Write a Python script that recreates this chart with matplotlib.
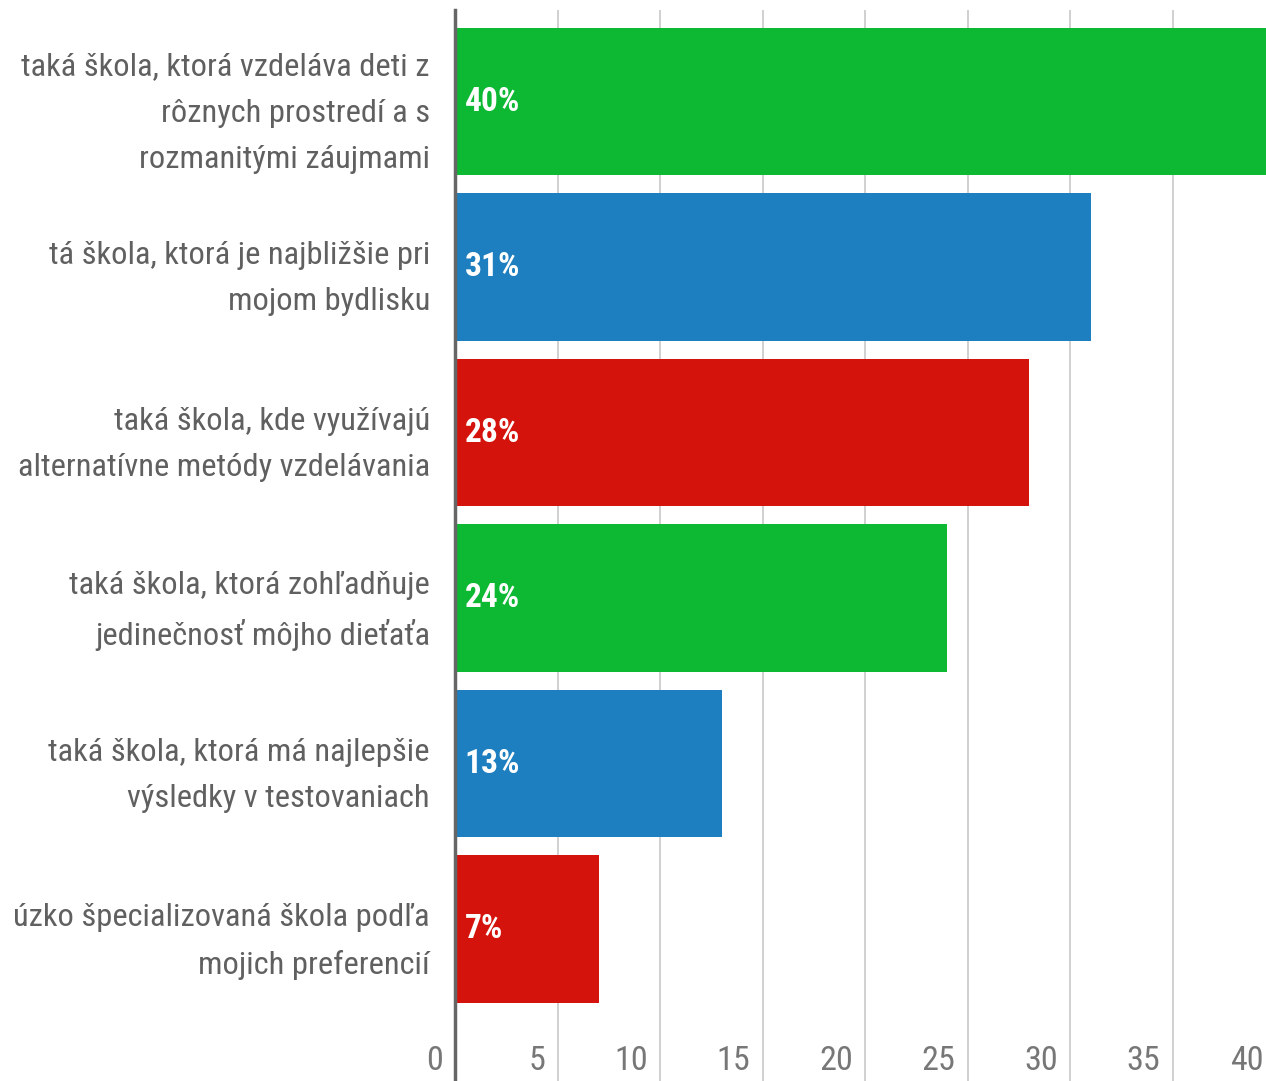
import numpy as np
import matplotlib.pyplot as plt
from matplotlib import font_manager

# data
labels = ['taká škola, ktorá vzdeláva deti z\nrôznych prostredí a s\nrozmanitými záujmami',
          'tá škola, ktorá je najbližšie pri\nmojom bydlisku',
          'taká škola, kde využívajú\nalternatívne metódy vzdelávania',
          'taká škola, ktorá zohľadňuje\njedinečnosť môjho dieťaťa',
          'taká škola, ktorá má najlepšie\nvýsledky v testovaniach',
          'úzko špecializovaná škola podľa\nmojich preferencií']
values = [40, 31, 28, 24, 13, 7]
bar_colors = ['#0db833', '#1e7fc0', '#d4140c', '#0db833', '#1e7fc0', '#d4140c']
xticks = [0, 5, 10, 15, 20, 25, 30, 35, 40]

# pick a narrow font if one is installed
names = {f.name for f in font_manager.fontManager.ttflist}
fam = 'DejaVu Sans'
for cand in ['Liberation Sans Narrow', 'DejaVu Sans Condensed', 'Roboto Condensed',
             'Open Sans Condensed', 'Noto Sans Condensed', 'Arial Narrow']:
    if cand in names:
        fam = cand
        break
plt.rcParams['font.family'] = [fam, 'DejaVu Sans']
plt.rcParams['font.stretch'] = 'condensed'

W, H = 1266, 1081
fig = plt.figure(figsize=(W / 100, H / 100), dpi=100)
ax = fig.add_axes([455 / W, 0, 1 - 455 / W, (H - 10) / H])

y = np.arange(len(values))
ax.barh(y, values, height=0.89, color=bar_colors, zorder=2)

ax.set_xlim(0, 39.53)
ax.set_ylim(5.918, -0.553)

# gridlines
for t in xticks[1:]:
    ax.axvline(t, color='#c8c8c8', lw=1.2, zorder=1)

for s in ['top', 'right', 'bottom']:
    ax.spines[s].set_visible(False)
ax.spines['left'].set_color('#666666')
ax.spines['left'].set_linewidth(2.5)
ax.spines['left'].set_zorder(3)

fs = 23
ax.set_yticks(y)
ticklabs = ax.set_yticklabels(labels, fontsize=fs, color='#606060', linespacing=1.75)
ax.tick_params(axis='y', length=0, pad=18)
ax.set_xticks([])

# scale label size so the widest label is about as wide as in the reference (~418 px)
fig.canvas.draw()
r = fig.canvas.get_renderer()
wmax = max(max(len(s) for s in tl.get_text().split('\n')) for tl in ticklabs)
wmax = max(tl.get_window_extent(r).width for tl in ticklabs)
fs = fs * 418 / wmax
for tl in ticklabs:
    tl.set_fontsize(fs)

# x tick labels sit inside the plot, just left of the gridlines
for t in xticks:
    ax.annotate(str(t), xy=(t, 5.8), xytext=(-9, 0), textcoords='offset points',
                ha='right', va='center', fontsize=fs * 1.05, color='#777777',
                annotation_clip=False)

# value labels inside bars
for i, v in enumerate(values):
    ax.annotate(f'{v}%', xy=(0, i), xytext=(7, 0), textcoords='offset points',
                ha='left', va='center', fontsize=fs * 1.03, fontweight='bold', color='white', zorder=4)

fig.savefig('out.png', dpi=100)
